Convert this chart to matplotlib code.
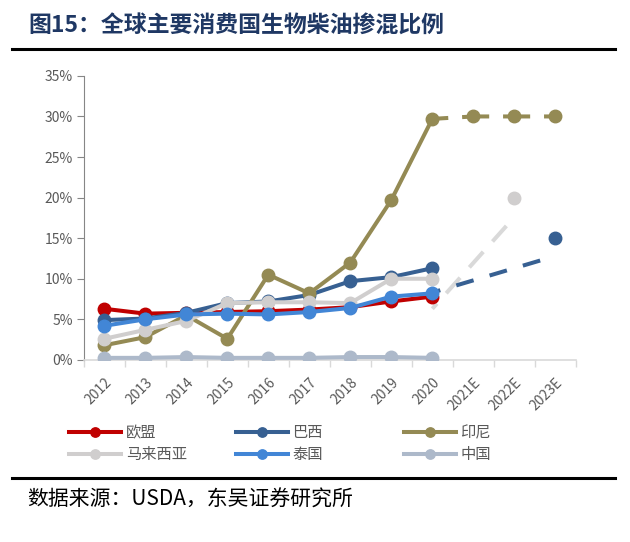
import numpy as np
import matplotlib.pyplot as plt
from matplotlib.ticker import FuncFormatter
import matplotlib.lines as mlines

plt.rcParams['font.family'] = ['Noto Sans CJK SC', 'DejaVu Sans']
plt.rcParams['lines.scale_dashes'] = False

years = ["2012", "2013", "2014", "2015", "2016", "2017", "2018", "2019", "2020",
         "2021E", "2022E", "2023E"]
hist_years = years[:9]

eu = [6.3, 5.7, 5.8, 5.9, 6.0, 6.2, 6.5, 7.2, 7.8]
brazil = [4.9, 5.1, 5.8, 7.0, 7.2, 8.0, 9.7, 10.2, 11.3]
india = [1.8, 2.8, 5.5, 2.6, 10.5, 8.2, 12.0, 19.7, 29.7]
malaysia = [2.6, 3.7, 4.8, 7.0, 7.1, 7.1, 7.0, 10.0, 10.0]
thailand = [4.2, 5.0, 5.6, 5.7, 5.6, 5.9, 6.4, 7.8, 8.2]
china = [0.25, 0.25, 0.35, 0.25, 0.25, 0.25, 0.35, 0.35, 0.25]

india_fc_years = ["2020", "2021E", "2022E", "2023E"]
india_fc = [29.7, 30.0, 30.0, 30.0]
malaysia_fc_years = ["2022E"]
malaysia_fc = [20.0]
brazil_fc_years = ["2023E"]
brazil_fc = [15.0]
# dashed trend lines drawn by the source chart
brazil_trend_years = ["2020", "2023E"]
brazil_trend = [8.3, 12.8]
malaysia_trend_years = ["2020", "2022E"]
malaysia_trend = [6.3, 17.6]

names = ["欧盟", "巴西", "印尼", "马来西亚", "泰国", "中国"]
colors = ["#C00000", "#376092", "#948A54", "#D0CECE", "#4286D6", "#ADB9CA"]
series = [eu, brazil, india, malaysia, thailand, china]

def pos(labels):
    return [years.index(y) for y in labels]

fig = plt.figure(figsize=(6.3, 5.42), dpi=100)
ax = fig.add_axes([0.133, 0.336, 0.781, 0.524])

lw = 2.9
ms = 9

# trend / forecast dashes
ax.plot(pos(malaysia_trend_years), malaysia_trend, color="#D9D9D9", lw=lw,
        linestyle=(10, (15, 10)), zorder=2)
ax.plot(pos(brazil_trend_years), brazil_trend, color=colors[1], lw=lw,
        linestyle=(7, (13, 12)), zorder=2)
ax.plot(pos(india_fc_years), india_fc, color=colors[2], lw=lw,
        linestyle=(8, (19.5, 10)), marker="o", ms=ms, markevery=[1, 2, 3], zorder=3)
ax.plot(pos(malaysia_fc_years), malaysia_fc, "o", color=colors[3], ms=ms, zorder=3)
ax.plot(pos(brazil_fc_years), brazil_fc, "o", color=colors[1], ms=ms, zorder=3)

handles = []
x = np.arange(len(hist_years))
for name, c, vals in zip(names, colors, series):
    h, = ax.plot(x, vals, "-o", color=c, lw=lw, ms=ms, label=name, zorder=4)
    handles.append(h)

ax.set_xlim(-0.5, len(years) - 0.5)
ax.set_ylim(0, 35)
ax.set_yticks(np.arange(0, 36, 5))
ax.yaxis.set_major_formatter(FuncFormatter(lambda v, p: "%d%%" % v))
ax.set_xticks(np.arange(len(years)))
ax.set_xticklabels(years, rotation=45, ha="right", rotation_mode="anchor")
ax.set_xticks(np.arange(-0.5, len(years), 1), minor=True)
ax.tick_params(axis="x", which="major", length=0, pad=11, labelsize=10, labelcolor="#595959")
ax.tick_params(axis="x", which="minor", length=5, color="#D9D9D9", width=1)
ax.tick_params(axis="y", length=5, color="#868686", labelsize=10, labelcolor="#595959", pad=3)

for s in ["top", "right"]:
    ax.spines[s].set_visible(False)
ax.spines["left"].set_color("#868686")
ax.spines["bottom"].set_color("#D9D9D9")
ax.spines["bottom"].set_linewidth(1.2)

# legend in three columns
col_x = [0.110, 0.374, 0.641]
for i in range(3):
    hs = [handles[i], handles[i + 3]]
    leg = fig.legend(hs, [h.get_label() for h in hs], loc="upper left",
                     bbox_to_anchor=(col_x[i], 1 - 424 / 542), frameon=False,
                     handlelength=3.4, handletextpad=0.3, labelspacing=0.35,
                     markerscale=0.75, fontsize=11, labelcolor="#595959",
                     borderaxespad=0, borderpad=0)

fig.text(28 / 630, 1 - 26 / 542, "图15：全球主要消费国生物柴油掺混比例", fontsize=16.5,
         fontweight="bold", color="#1F3864", va="center", ha="left")
fig.add_artist(mlines.Line2D([12 / 630, 615 / 630], [1 - 49 / 542, 1 - 49 / 542],
                             color="black", lw=2.2))
fig.add_artist(mlines.Line2D([12 / 630, 615 / 630], [1 - 478 / 542, 1 - 478 / 542],
                             color="black", lw=2.2))
fig.text(27 / 630, 1 - 500 / 542, "数据来源：USDA，东吴证券研究所", fontsize=15,
         color="black", va="center", ha="left")

fig.savefig("out.png", dpi=100)
